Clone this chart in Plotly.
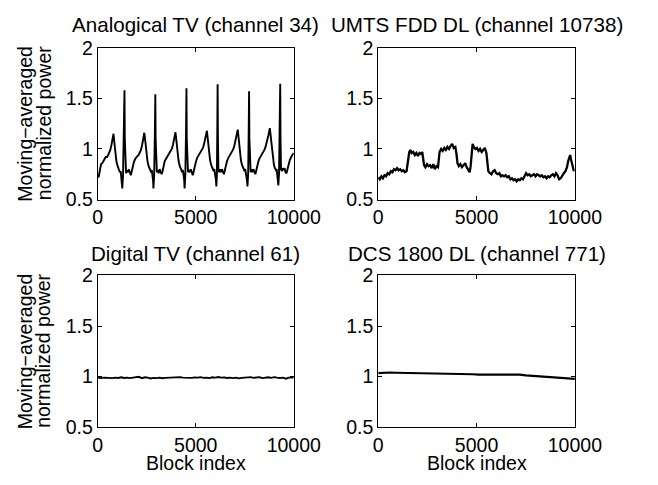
import plotly.graph_objects as go

# ---------------- data ----------------
analog_pts = [
    (0, 0.73), (40, 0.72), (80, 0.76), (120, 0.82), (170, 0.85), (230, 0.86), (290, 0.89), (350, 0.90),
    (410, 0.92), (470, 0.92), (530, 0.94), (590, 0.96), (640, 0.99), (700, 1.04), (750, 1.10), (803, 1.15),
    (850, 1.06), (900, 0.96), (950, 0.88), (1000, 0.84), (1050, 0.80), (1090, 0.79), (1130, 0.77), (1170, 0.78),
    (1200, 0.72), (1230, 0.67), (1252, 0.61), (1290, 0.74), (1340, 1.15), (1364, 1.58),
    (1380, 1.10), (1405, 0.80), (1445, 0.76), (1485, 0.79), (1535, 0.77), (1585, 0.80), (1635, 0.76), (1685, 0.74),
    (1735, 0.78), (1785, 0.83), (1845, 0.87), (1905, 0.90), (1965, 0.92), (2025, 0.93), (2085, 0.94), (2145, 0.96),
    (2205, 0.99), (2265, 1.04), (2325, 1.10), (2376, 1.16), (2436, 1.06), (2486, 0.96), (2536, 0.88), (2596, 0.83),
    (2656, 0.80), (2706, 0.78), (2756, 0.79), (2796, 0.74), (2822, 0.69), (2841, 0.61), (2880, 0.75), (2917, 1.20),
    (2937, 1.54),
    (2953, 1.10), (2977, 0.80), (3017, 0.77), (3057, 0.79), (3107, 0.76), (3157, 0.80), (3207, 0.77), (3257, 0.75),
    (3307, 0.78), (3357, 0.83), (3417, 0.88), (3477, 0.90), (3537, 0.92), (3597, 0.93), (3657, 0.95), (3717, 0.97),
    (3777, 1.00), (3837, 1.04), (3897, 1.10), (3965, 1.165), (4025, 1.06), (4075, 0.96), (4125, 0.88), (4185, 0.83),
    (4245, 0.80), (4295, 0.78), (4345, 0.79), (4385, 0.74), (4411, 0.69), (4430, 0.61), (4470, 0.75), (4506, 1.20),
    (4526, 1.60),
    (4542, 1.10), (4566, 0.80), (4606, 0.77), (4646, 0.79), (4696, 0.77), (4746, 0.80), (4796, 0.76), (4846, 0.74),
    (4896, 0.78), (4946, 0.83), (5006, 0.87), (5066, 0.91), (5126, 0.93), (5186, 0.94), (5246, 0.96), (5306, 0.98),
    (5366, 1.01), (5426, 1.05), (5496, 1.11), (5570, 1.18), (5630, 1.07), (5680, 0.97), (5730, 0.89), (5790, 0.84),
    (5850, 0.80), (5900, 0.79), (5950, 0.80), (5995, 0.75), (6030, 0.69), (6051, 0.63), (6080, 0.76), (6100, 1.20),
    (6116, 1.64),
    (6132, 1.10), (6156, 0.80), (6196, 0.77), (6236, 0.80), (6286, 0.77), (6336, 0.80), (6386, 0.76), (6436, 0.75),
    (6486, 0.79), (6536, 0.84), (6596, 0.88), (6656, 0.91), (6716, 0.93), (6776, 0.94), (6836, 0.96), (6896, 0.99),
    (6956, 1.02), (7016, 1.07), (7076, 1.13), (7143, 1.19), (7203, 1.08), (7253, 0.97), (7303, 0.89), (7363, 0.84),
    (7423, 0.81), (7473, 0.79), (7523, 0.80), (7573, 0.75), (7615, 0.69), (7640, 0.63), (7675, 0.76), (7703, 1.20),
    (7721, 1.57),
    (7737, 1.10), (7761, 0.80), (7801, 0.77), (7841, 0.80), (7891, 0.77), (7941, 0.80), (7991, 0.76), (8041, 0.75),
    (8091, 0.79), (8141, 0.84), (8201, 0.88), (8261, 0.91), (8321, 0.93), (8381, 0.94), (8441, 0.96), (8501, 0.99),
    (8561, 1.02), (8621, 1.06), (8701, 1.13), (8780, 1.205), (8840, 1.08), (8890, 0.97), (8940, 0.89), (8990, 0.84),
    (9040, 0.81), (9090, 0.79), (9130, 0.80), (9165, 0.75), (9195, 0.69), (9213, 0.64), (9250, 0.76), (9290, 1.20),
    (9310, 1.645),
    (9326, 1.10), (9350, 0.80), (9390, 0.78), (9430, 0.81), (9480, 0.79), (9530, 0.81), (9580, 0.77), (9630, 0.76),
    (9680, 0.80), (9730, 0.85), (9800, 0.89), (9870, 0.92), (9940, 0.95), (10000, 0.96),
]

umts_pts = [
    (0, 0.72), (80, 0.70), (160, 0.73), (240, 0.71), (320, 0.74), (400, 0.73), (480, 0.76), (560, 0.75),
    (640, 0.78), (720, 0.77), (800, 0.80), (880, 0.79), (960, 0.81), (1040, 0.79), (1120, 0.80), (1200, 0.78),
    (1280, 0.79), (1360, 0.77), (1440, 0.78), (1480, 0.83), (1520, 0.92), (1580, 0.97), (1640, 0.99), (1700, 0.96),
    (1780, 0.97), (1860, 0.94), (1940, 0.96), (2020, 0.93), (2100, 0.96), (2180, 0.95), (2240, 0.97), (2290, 0.90),
    (2330, 0.84), (2400, 0.82), (2480, 0.85), (2560, 0.83), (2640, 0.84), (2720, 0.81), (2800, 0.85), (2880, 0.80),
    (2960, 0.83), (3040, 0.82), (3080, 0.90), (3120, 0.97), (3200, 1.00), (3280, 0.98), (3360, 1.01), (3440, 0.99),
    (3520, 1.02), (3600, 1.00), (3680, 1.03), (3760, 1.05), (3840, 1.01), (3920, 1.02), (3980, 0.95), (4030, 0.86),
    (4100, 0.83), (4180, 0.85), (4260, 0.82), (4340, 0.84), (4420, 0.86), (4500, 0.82), (4580, 0.79), (4650, 0.77),
    (4700, 0.83), (4760, 0.99), (4800, 1.05), (4860, 1.02), (4940, 1.00), (5020, 1.01), (5100, 0.98), (5180, 1.00),
    (5260, 0.97), (5340, 0.99), (5420, 1.01), (5500, 0.96), (5550, 0.84), (5600, 0.78), (5680, 0.76), (5760, 0.75),
    (5840, 0.78), (5920, 0.79), (6000, 0.76), (6080, 0.75), (6160, 0.76), (6240, 0.73), (6320, 0.74), (6400, 0.73),
    (6480, 0.74), (6560, 0.72), (6640, 0.73), (6720, 0.70), (6800, 0.71), (6880, 0.69), (6960, 0.70), (7040, 0.68),
    (7120, 0.70), (7200, 0.69), (7280, 0.71), (7360, 0.70), (7440, 0.73), (7520, 0.76), (7600, 0.74), (7680, 0.75),
    (7760, 0.73), (7840, 0.74), (7920, 0.75), (8000, 0.73), (8080, 0.75), (8160, 0.74), (8240, 0.73), (8320, 0.74),
    (8400, 0.72), (8480, 0.73), (8560, 0.71), (8640, 0.73), (8720, 0.72), (8800, 0.74), (8880, 0.75), (8960, 0.73),
    (9040, 0.76), (9120, 0.74), (9200, 0.70), (9280, 0.71), (9360, 0.74), (9440, 0.76), (9520, 0.78), (9600, 0.82),
    (9660, 0.88), (9720, 0.93), (9760, 0.94), (9800, 0.90), (9850, 0.86), (9900, 0.81), (9950, 0.78),
]

digital_pts = [
    (0, 0.99), (150, 0.985), (300, 0.99), (450, 0.988), (600, 0.992), (750, 0.985), (900, 0.99), (1050, 0.987),
    (1200, 0.993), (1350, 0.986), (1500, 0.99), (1650, 0.985), (1800, 0.99), (1950, 0.997), (2100, 0.998),
    (2250, 0.985), (2400, 0.993), (2550, 0.99), (2700, 0.982), (2850, 0.988), (3000, 0.985), (3150, 0.99),
    (3300, 0.984), (3450, 0.988), (3600, 0.99), (3750, 0.987), (3900, 0.992), (4050, 0.99), (4200, 0.995),
    (4350, 0.99), (4500, 0.987), (4650, 0.99), (4800, 0.988), (4950, 0.993), (5100, 0.99), (5250, 0.995),
    (5400, 0.988), (5550, 0.99), (5700, 0.985), (5850, 0.993), (6000, 0.99), (6150, 0.996), (6300, 0.99),
    (6450, 0.993), (6600, 0.987), (6750, 0.99), (6900, 0.985), (7050, 0.99), (7200, 0.983), (7350, 0.988),
    (7500, 0.99), (7650, 0.986), (7800, 0.995), (7950, 0.988), (8100, 0.99), (8250, 0.995), (8400, 0.985),
    (8550, 0.99), (8700, 0.993), (8850, 0.988), (9000, 0.995), (9150, 0.99), (9300, 0.986), (9450, 0.99),
    (9600, 0.98), (9750, 0.99), (9900, 0.987), (10000, 0.99),
]

dcs_pts = [
    (0, 1.035), (300, 1.04), (600, 1.04), (900, 1.038), (1200, 1.037), (1500, 1.037), (1800, 1.036),
    (2100, 1.036), (2400, 1.035), (2700, 1.036), (3000, 1.032), (3300, 1.03), (3600, 1.03), (3900, 1.028),
    (4200, 1.027), (4500, 1.025), (4800, 1.023), (5100, 1.02), (5400, 1.02), (5700, 1.02), (6000, 1.018),
    (6300, 1.02), (6600, 1.022), (6900, 1.025), (7200, 1.02), (7500, 1.012), (7800, 1.008), (8100, 1.004),
    (8400, 1.0), (8700, 0.995), (9000, 0.99), (9300, 0.985), (9600, 0.98), (9900, 0.977), (10000, 0.978),
]

titles = ["Analogical TV (channel 34)", "UMTS FDD DL (channel 10738)",
          "Digital TV (channel 61)", "DCS 1800 DL (channel 771)"]
x_ticks = [0, 5000, 10000]
y_ticks = [0.5, 1, 1.5, 2]
y_tick_text = ["0.5", "1", "1.5", "2"]

# ---------------- figure ----------------
W, H = 658, 485
FONT = "Liberation Sans, Arial, sans-serif"

xdoms = [[97.5 / W, 303.5 / W], [392.3 / W, 599 / W]]
ydoms = [[1 - 197.5 / H, 1 - 38.5 / H], [1 - 436 / H, 1 - 277 / H]]
title_y = [14.5, 254]
ylabel_y = [118, 356.5]
widths = [1.9, 2.3, 1.9, 2.1]

series = [analog_pts, umts_pts, digital_pts, dcs_pts]
fig = go.Figure()
layout = dict(
    width=W, height=H, margin=dict(l=0, r=0, t=0, b=0),
    paper_bgcolor="white", plot_bgcolor="white", showlegend=False,
    font=dict(family=FONT, color="black", size=19.5),
)
annotations = []
for i, pts in enumerate(series):
    r, c = divmod(i, 2)
    n = "" if i == 0 else str(i + 1)
    fig.add_trace(go.Scatter(
        x=[p[0] for p in pts], y=[p[1] for p in pts], mode="lines",
        line=dict(color="black", width=widths[i]), xaxis="x" + n, yaxis="y" + n,
    ))
    common = dict(showline=True, linecolor="black", linewidth=1, mirror="ticks",
                  ticks="inside", ticklen=4, tickcolor="black", showgrid=False,
                  zeroline=False, tickfont=dict(family=FONT, size=19.5, color="black"))
    layout["xaxis" + n] = dict(domain=xdoms[c], range=[0, 10000], tickvals=x_ticks,
                               ticktext=[str(v) for v in x_ticks], anchor="y" + n, **common)
    layout["yaxis" + n] = dict(domain=ydoms[r], range=[0.5, 2], tickvals=y_ticks,
                               ticktext=y_tick_text, anchor="x" + n, **common)
    xc = (xdoms[c][0] + xdoms[c][1]) / 2
    annotations.append(dict(text=titles[i], x=xc, y=1 - title_y[r] / H, xref="paper", yref="paper",
                            xanchor="center", yanchor="middle", showarrow=False,
                            font=dict(family=FONT, size=20.6, color="black")))
    if c == 0:
        yc = 1 - ylabel_y[r] / H
        for txt, px in (("Moving\u2212averaged", 21), ("normalized power", 40.5)):
            annotations.append(dict(text=txt, x=px / W, y=yc, xref="paper", yref="paper",
                                    xanchor="center", yanchor="middle", textangle=-90,
                                    showarrow=False, font=dict(family=FONT, size=19.5, color="black")))
    if r == 1:
        annotations.append(dict(text="Block index", x=xc, y=1 - 473 / H, xref="paper", yref="paper",
                                xanchor="center", yanchor="middle", showarrow=False,
                                font=dict(family=FONT, size=19.5, color="black")))
layout["annotations"] = annotations
fig.update_layout(**layout)
fig.write_html("out.html")
